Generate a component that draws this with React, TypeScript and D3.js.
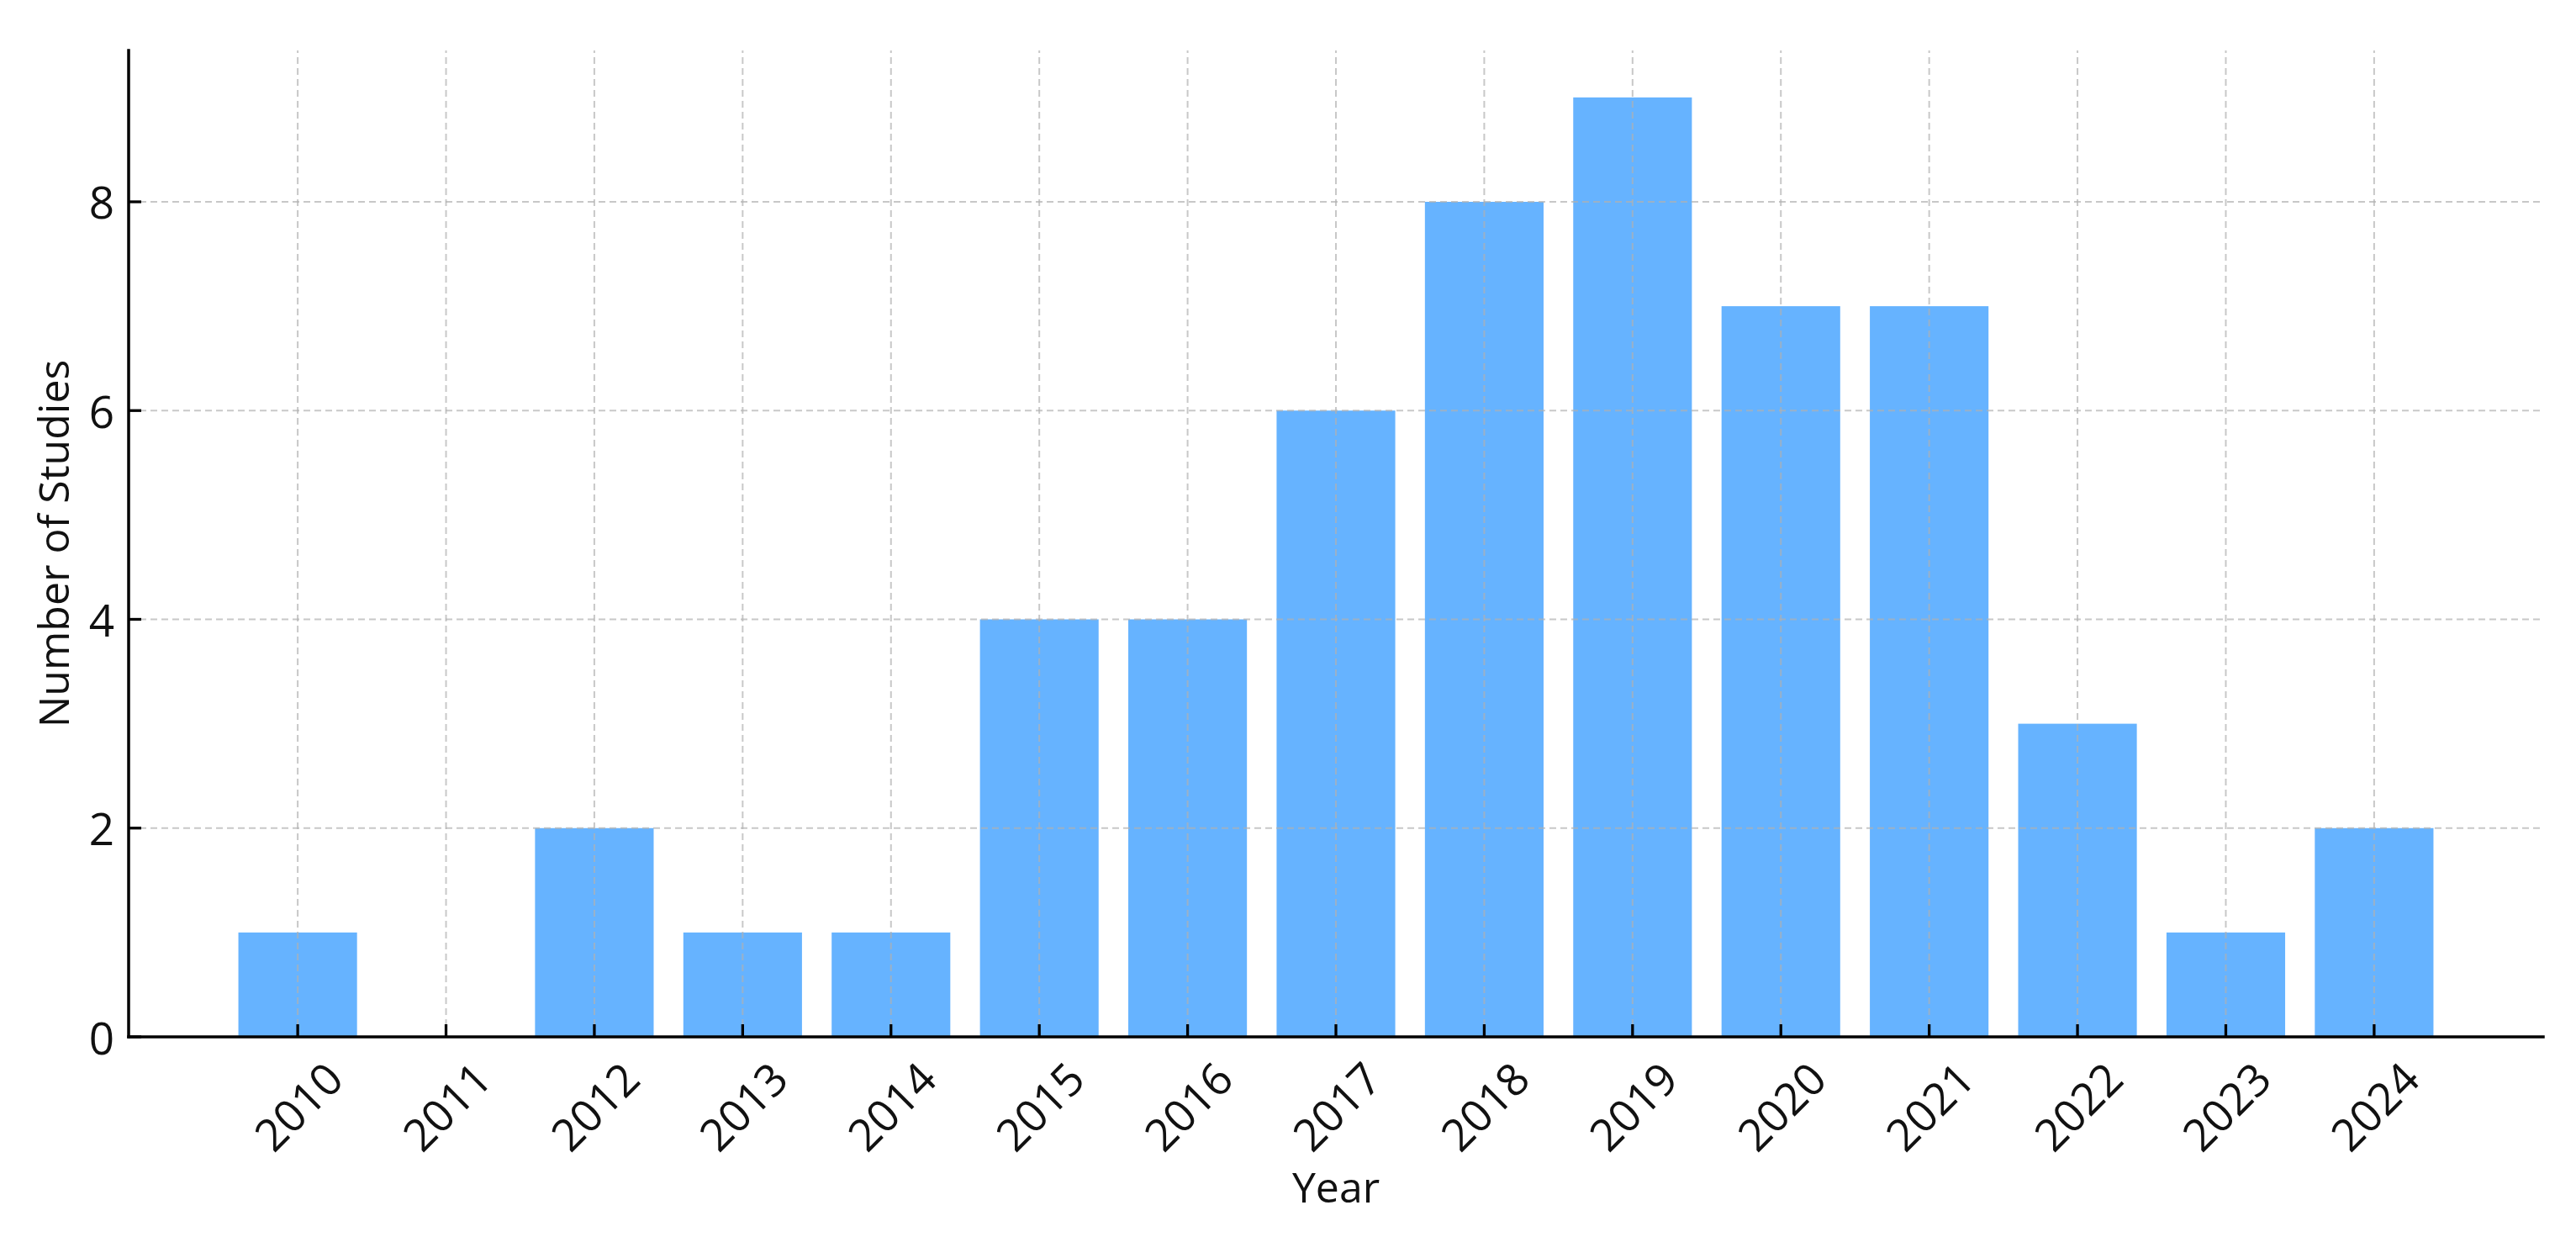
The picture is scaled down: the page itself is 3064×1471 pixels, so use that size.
import React from "react";
import * as d3 from "d3";

const years: string[] = ["2010","2011","2012","2013","2014","2015","2016","2017","2018","2019","2020","2021","2022","2023","2024"];
const studies: number[] = [1,0,2,1,1,4,4,6,8,9,7,7,3,1,2];
const yTicks: number[] = [0,2,4,6,8];

const W = 3064, H = 1471;
const left = 153, right = 3025, top = 60, bottom = 1233;
const FONT = "'Open Sans', 'Noto Sans', sans-serif";

export default function App() {
  const n = years.length;
  const barW = 0.8;
  const span = (n - 1) + barW;
  const x = d3.scaleLinear().domain([-barW / 2 - 0.05 * span, n - 1 + barW / 2 + 0.05 * span]).range([left, right]);
  const yMax = (d3.max(studies) ?? 0) * 1.05;
  const y = d3.scaleLinear().domain([0, yMax]).range([bottom, top]);
  const bw = x(barW) - x(0);
  const tickLen = 15;

  return (
    <svg width={W} height={H} style={{ position: "absolute", left: 0, top: 0, background: "#fff" }} fontFamily={FONT}>
      <rect x={0} y={0} width={W} height={H} fill="#fff" />
      {studies.map((v, i) => (
        <rect key={"b" + i} x={x(i) - bw / 2} y={y(v)} width={bw} height={y(0) - y(v)} fill="#66b3ff" />
      ))}
      {/* grid */}
      <g stroke="#b0b0b0" strokeOpacity={0.7} strokeWidth={2} strokeDasharray="8,5">
        {years.map((_, i) => (
          <line key={"gx" + i} x1={x(i)} x2={x(i)} y1={bottom} y2={top} />
        ))}
        {yTicks.map((t) => (
          <line key={"gy" + t} x1={left} x2={right} y1={y(t)} y2={y(t)} />
        ))}
      </g>
      {/* ticks */}
      <g stroke="#000" strokeWidth={3.3}>
        {years.map((_, i) => (
          <line key={"tx" + i} x1={x(i)} x2={x(i)} y1={bottom} y2={bottom - tickLen} />
        ))}
        {yTicks.map((t) => (
          <line key={"ty" + t} x1={left} x2={left + tickLen} y1={y(t)} y2={y(t)} />
        ))}
      </g>
      {/* spines */}
      <line x1={left} x2={left} y1={top} y2={bottom} stroke="#000" strokeWidth={3.5} strokeLinecap="square" />
      <line x1={left} x2={right} y1={bottom} y2={bottom} stroke="#000" strokeWidth={3.5} strokeLinecap="square" />
      {/* tick labels */}
      {yTicks.map((t) => (
        <text key={"ly" + t} x={left - 17} y={y(t)} textAnchor="end" dominantBaseline="central" fontSize={53} fill="#111">
          {t}
        </text>
      ))}
      {years.map((yr, i) => (
        <text
          key={"lx" + i}
          transform={`translate(${x(i)},${bottom + 82}) rotate(-45)`}
          textAnchor="middle"
          dominantBaseline="central"
          fontSize={53}
          fill="#111"
        >
          {yr}
        </text>
      ))}
      {/* axis labels */}
      <text x={(left + right) / 2} y={1430} textAnchor="middle" fontSize={50} fill="#111">Year</text>
      <text transform={`translate(82,${(top + bottom) / 2}) rotate(-90)`} textAnchor="middle" fontSize={50} fill="#111">
        Number of Studies
      </text>
    </svg>
  );
}
